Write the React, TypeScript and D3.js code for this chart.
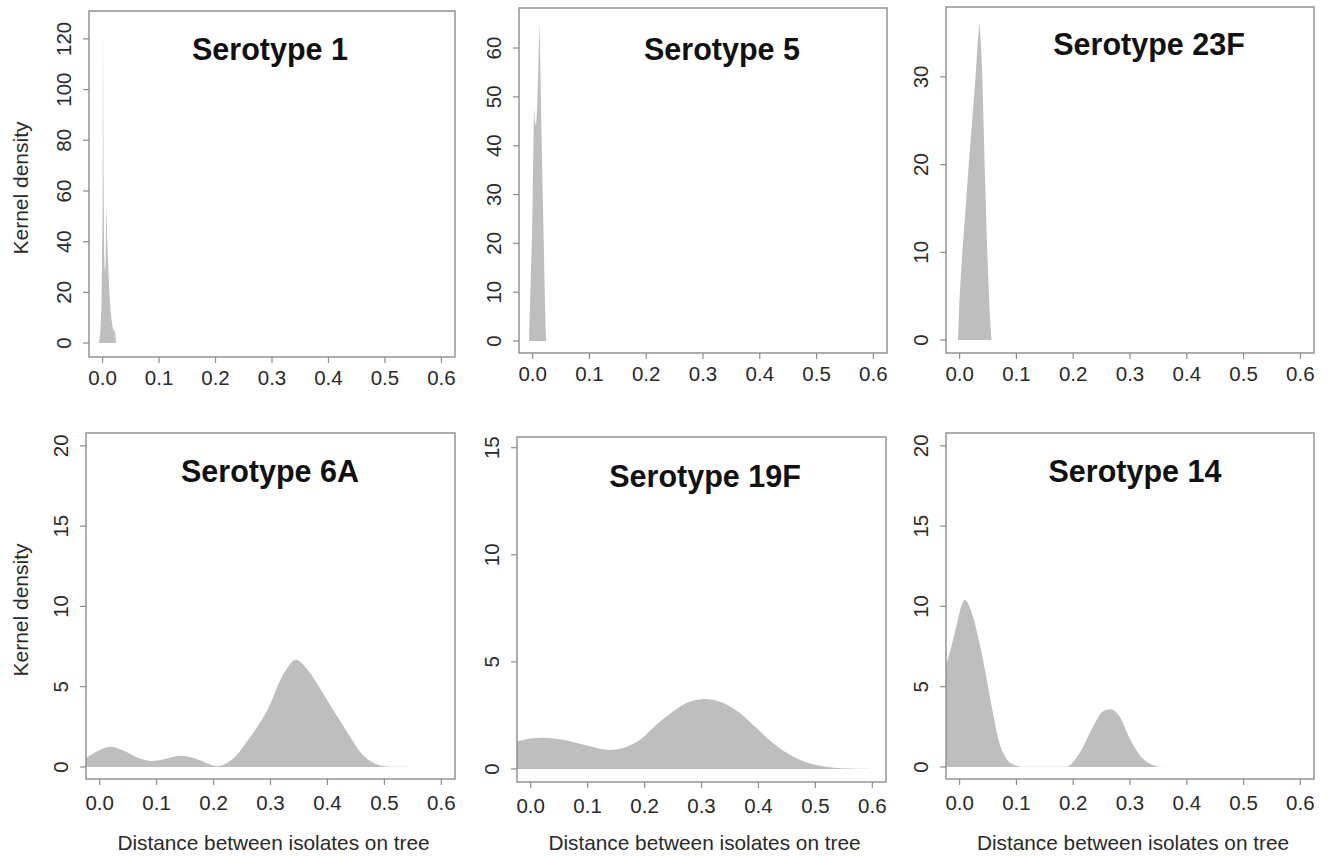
import React from "react";
import * as d3 from "d3";

// density curves (distance, kernel density)
const sero1X = [-0.0065, -0.004, -0.002, 0.0, 0.0008, 0.0016, 0.0028, 0.004, 0.0052, 0.0066, 0.008, 0.010, 0.012, 0.014, 0.016, 0.018, 0.0195, 0.021, 0.0225, 0.024];
const sero1Y = [0, 4, 14, 50, 125, 70, 35, 28, 30, 55, 42, 30, 20, 13, 9, 6, 5, 5, 4, 0];

const sero5X = [-0.0065, -0.004, -0.001, 0.0012, 0.0025, 0.004, 0.006, 0.008, 0.010, 0.0123, 0.015, 0.018, 0.021, 0.0227, 0.024];
const sero5Y = [0, 10, 22, 39, 48, 45, 44, 48, 56, 65.5, 46, 29, 12, 3, 0];

const sero23FX = [-0.003, 0.0, 0.0047, 0.010, 0.016, 0.022, 0.028, 0.032, 0.035, 0.038, 0.040, 0.044, 0.0486, 0.053, 0.056];
const sero23FY = [0, 5, 10, 14.5, 20, 25, 30, 34, 36.3, 33, 30, 20, 10, 3, 0];

const sero6AX = [-0.024, 0.0, 0.018, 0.04, 0.065, 0.092, 0.115, 0.142, 0.17, 0.2065, 0.235, 0.265, 0.2946, 0.324, 0.3446, 0.365, 0.3887, 0.412, 0.436, 0.459, 0.477, 0.5, 0.52, 0.55];
const sero6AY = [0.55, 1.05, 1.26, 1.05, 0.6, 0.37, 0.5, 0.7, 0.5, 0.05, 0.55, 1.9, 3.55, 5.86, 6.67, 6.05, 4.8, 3.45, 2.1, 0.87, 0.33, 0.05, 0.01, 0];

const sero19FX = [-0.024, 0.0, 0.022, 0.06, 0.1, 0.139, 0.17, 0.192, 0.221, 0.25, 0.28, 0.306, 0.338, 0.368, 0.397, 0.426, 0.456, 0.485, 0.514, 0.544, 0.573, 0.6];
const sero19FY = [1.28, 1.42, 1.46, 1.35, 1.08, 0.89, 1.05, 1.36, 2.06, 2.68, 3.15, 3.27, 3.08, 2.6, 1.9, 1.2, 0.65, 0.3, 0.12, 0.03, 0.005, 0];

const sero14X = [-0.024, -0.0146, -0.0058, 0.0088, 0.0235, 0.035, 0.047, 0.0587, 0.07, 0.082, 0.094, 0.111, 0.15, 0.188, 0.211, 0.235, 0.252, 0.266, 0.282, 0.299, 0.317, 0.335, 0.352, 0.38];
const sero14Y = [6.3, 7.5, 8.75, 10.4, 9.36, 7.7, 5.6, 3.35, 1.5, 0.55, 0.15, 0.02, 0.01, 0.02, 0.85, 2.5, 3.45, 3.6, 3.13, 1.8, 0.75, 0.2, 0.02, 0];

const titles = ["Serotype 1", "Serotype 5", "Serotype 23F", "Serotype 6A", "Serotype 19F", "Serotype 14"];
const xTicks = [0, 0.1, 0.2, 0.3, 0.4, 0.5, 0.6];
const yTicks1 = [0, 20, 40, 60, 80, 100, 120];
const yTicks5 = [0, 10, 20, 30, 40, 50, 60];
const yTicks23F = [0, 10, 20, 30];
const yTicks6A = [0, 5, 10, 15, 20];
const yTicks19F = [0, 5, 10, 15];
const yTicks14 = [0, 5, 10, 15, 20];
const yLabel = "Kernel density";
const xLabel = "Distance between isolates on tree";

const FONT = "'Liberation Sans', Arial, Helvetica, sans-serif";
const FILL = "#bebebe";
const BOX = "#8c8c8c";
const TXT = "#2a2a2a";

const panels = [
  { xs: sero1X, ys: sero1Y, ticks: yTicks1, yDom: [-5.5, 131], box: [89, 11, 455, 357], titleX: 270, titleY: 60, smooth: false, yLab: true, xLab: false },
  { xs: sero5X, ys: sero5Y, ticks: yTicks5, yDom: [-2.46, 68.2], box: [519, 8, 887, 353], titleX: 722, titleY: 60, smooth: false, yLab: false, xLab: false },
  { xs: sero23FX, ys: sero23FY, ticks: yTicks23F, yDom: [-1.48, 37.97], box: [946, 7, 1314, 353], titleX: 1149, titleY: 55, smooth: false, yLab: false, xLab: false },
  { xs: sero6AX, ys: sero6AY, ticks: yTicks6A, yDom: [-0.75, 20.8], box: [86, 433, 455, 779], titleX: 270, titleY: 482, smooth: true, yLab: true, xLab: true },
  { xs: sero19FX, ys: sero19FY, ticks: yTicks19F, yDom: [-0.61, 15.5], box: [517, 437, 886, 782], titleX: 705, titleY: 487, smooth: true, yLab: false, xLab: true },
  { xs: sero14X, ys: sero14Y, ticks: yTicks14, yDom: [-0.75, 20.8], box: [946, 433, 1314, 779], titleX: 1135, titleY: 482, smooth: true, yLab: false, xLab: true },
];

function Panel({ p, i }) {
  const [x0, y0, x1, y1] = p.box;
  const x = d3.scaleLinear().domain([-0.024, 0.624]).range([x0, x1]);
  const y = d3.scaleLinear().domain(p.yDom).range([y1, y0]);
  const pts = p.xs.map((v, k) => [v, p.ys[k]]);
  const area = d3
    .area()
    .x(d => x(d[0]))
    .y0(y(0))
    .y1(d => y(d[1]))
    .curve(p.smooth ? d3.curveMonotoneX : d3.curveLinear);
  const clipId = `clip${i}`;
  const cy = (y0 + y1) / 2;
  return (
    <g>
      <clipPath id={clipId}>
        <rect x={x0} y={y0} width={x1 - x0} height={y1 - y0} />
      </clipPath>
      <path d={area(pts)} fill={FILL} clipPath={`url(#${clipId})`} />
      <rect x={x0} y={y0} width={x1 - x0} height={y1 - y0} fill="none" stroke={BOX} strokeWidth={1.4} />
      {xTicks.map(t => (
        <g key={t}>
          <line x1={x(t)} x2={x(t)} y1={y1} y2={y1 + 6} stroke={BOX} strokeWidth={1.2} />
          <text x={x(t)} y={y1 + (p.xLab ? 31 : 28)} textAnchor="middle" fontSize={20.5} fill={TXT} fontFamily={FONT}>
            {t.toFixed(1)}
          </text>
        </g>
      ))}
      {p.ticks.map(t => (
        <g key={t}>
          <line x1={x0 - 6} x2={x0} y1={y(t)} y2={y(t)} stroke={BOX} strokeWidth={1.2} />
          <text
            transform={`translate(${x0 - 18},${y(t)}) rotate(-90)`}
            textAnchor="middle" fontSize={20.5} fill={TXT} fontFamily={FONT}
          >
            {t}
          </text>
        </g>
      ))}
      <text x={p.titleX} y={p.titleY} textAnchor="middle" fontSize={30.5} fontWeight="bold" fill="#111" fontFamily={FONT}>
        {titles[i]}
      </text>
      {p.yLab && (
        <text transform={`translate(28,${cy + 4}) rotate(-90)`} textAnchor="middle" fontSize={21} fill={TXT} fontFamily={FONT}>
          {yLabel}
        </text>
      )}
      {p.xLab && (
        <text x={(x0 + x1) / 2 + 3} y={850} textAnchor="middle" fontSize={20.8} fill={TXT} fontFamily={FONT}>
          {xLabel}
        </text>
      )}
    </g>
  );
}

export default function App() {
  return (
    <svg
      width={1331}
      height={856}
      style={{ position: "absolute", left: 0, top: 0, background: "#fff" }}
    >
      <rect width={1331} height={856} fill="#fff" />
      {panels.map((p, i) => (
        <Panel key={i} p={p} i={i} />
      ))}
    </svg>
  );
}
